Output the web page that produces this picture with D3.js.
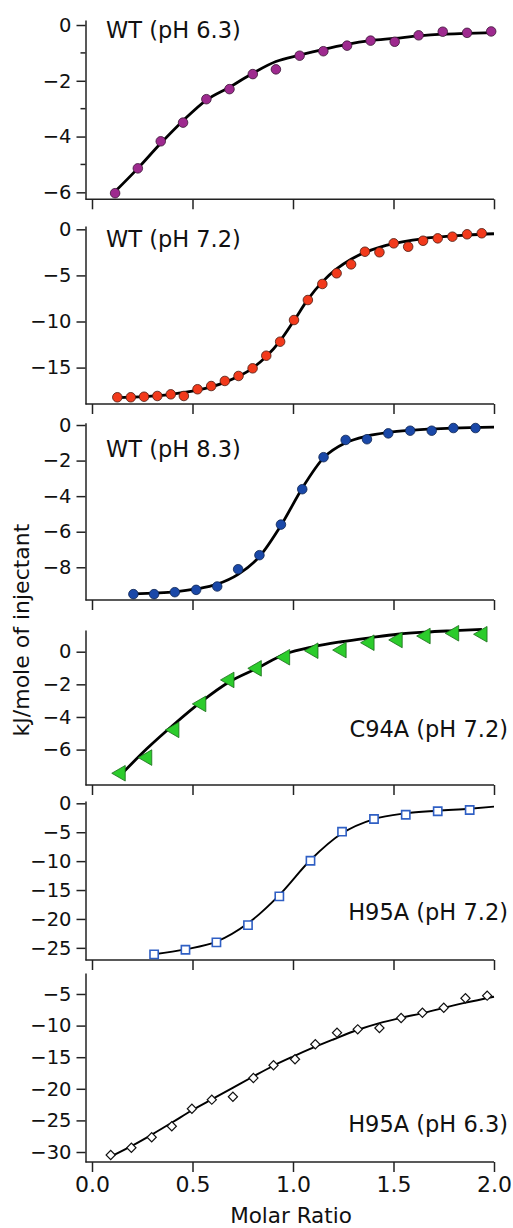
<!DOCTYPE html>
<html>
<head>
<meta charset="utf-8">
<script src="https://cdn.jsdelivr.net/npm/d3@7/dist/d3.min.js"></script>
<style>
  body { margin: 0; background: #fff; }
  text { font-family: "DejaVu Sans", sans-serif; fill: #111; }
</style>
</head>
<body>
<div id="chart"></div>
<script>
// ---- data ----
// WT pH 6.3
const wt63X = [0.115, 0.228, 0.342, 0.453, 0.569, 0.684, 0.80, 0.915, 1.033, 1.151, 1.269, 1.386, 1.506, 1.625, 1.745, 1.866, 1.986];
const wt63Y = [-6.03, -5.14, -4.17, -3.50, -2.66, -2.30, -1.76, -1.59, -1.10, -0.94, -0.74, -0.56, -0.60, -0.37, -0.24, -0.28, -0.23];
const wt63FitX = [0.115, 0.228, 0.342, 0.453, 0.569, 0.684, 0.80, 0.915, 1.033, 1.151, 1.269, 1.386, 1.506, 1.625, 1.745, 1.866, 2.0];
const wt63FitY = [-5.97, -5.14, -4.24, -3.43, -2.69, -2.23, -1.73, -1.31, -1.08, -0.87, -0.69, -0.56, -0.48, -0.39, -0.33, -0.30, -0.27];

// WT pH 7.2
const wt72X = [0.126, 0.193, 0.259, 0.325, 0.392, 0.457, 0.525, 0.593, 0.661, 0.729, 0.799, 0.867, 0.936, 1.005, 1.074, 1.146, 1.217, 1.289, 1.358, 1.430, 1.501, 1.573, 1.647, 1.720, 1.793, 1.866, 1.939];
const wt72Y = [-18.22, -18.22, -18.16, -18.08, -17.90, -18.08, -17.35, -17.00, -16.45, -15.91, -15.08, -13.71, -12.19, -9.84, -7.67, -5.93, -4.77, -3.80, -2.43, -2.49, -1.52, -1.89, -1.24, -0.98, -0.80, -0.54, -0.43];
const wt72FitX = [0.126, 0.259, 0.392, 0.525, 0.661, 0.729, 0.799, 0.867, 0.936, 1.005, 1.074, 1.146, 1.217, 1.289, 1.358, 1.430, 1.501, 1.573, 1.647, 1.720, 1.793, 1.866, 2.0];
const wt72FitY = [-18.25, -18.15, -17.90, -17.45, -16.60, -15.95, -15.05, -13.80, -12.10, -9.90, -7.60, -5.70, -4.30, -3.25, -2.50, -1.95, -1.55, -1.25, -1.00, -0.85, -0.72, -0.62, -0.48];

// WT pH 8.3
const wt83X = [0.206, 0.309, 0.412, 0.518, 0.623, 0.727, 0.833, 0.940, 1.046, 1.152, 1.262, 1.368, 1.474, 1.583, 1.690, 1.798, 1.908];
const wt83Y = [-9.51, -9.51, -9.40, -9.27, -9.08, -8.11, -7.32, -5.60, -3.61, -1.81, -0.84, -0.80, -0.47, -0.32, -0.32, -0.17, -0.17];
const wt83FitX = [0.206, 0.309, 0.412, 0.518, 0.623, 0.727, 0.833, 0.940, 1.046, 1.152, 1.262, 1.368, 1.474, 1.583, 1.690, 1.798, 2.0];
const wt83FitY = [-9.50, -9.45, -9.38, -9.22, -8.95, -8.40, -7.40, -5.65, -3.55, -1.85, -1.00, -0.62, -0.42, -0.30, -0.22, -0.17, -0.12];

// C94A pH 7.2
const c94X = [0.143, 0.275, 0.410, 0.544, 0.684, 0.820, 0.961, 1.102, 1.242, 1.381, 1.521, 1.660, 1.802, 1.943];
const c94Y = [-7.45, -6.49, -4.79, -3.20, -1.73, -1.02, -0.34, 0.06, 0.10, 0.55, 0.72, 0.96, 1.13, 1.07];
const c94FitX = [0.143, 0.275, 0.410, 0.544, 0.684, 0.820, 0.961, 1.102, 1.242, 1.381, 1.521, 1.660, 1.802, 1.940];
const c94FitY = [-7.55, -5.92, -4.43, -3.06, -1.84, -1.02, -0.14, 0.31, 0.61, 0.85, 1.07, 1.20, 1.29, 1.37];

// H95A pH 7.2
const h72X = [0.309, 0.465, 0.619, 0.776, 0.932, 1.087, 1.244, 1.403, 1.561, 1.720, 1.879];
const h72Y = [-26.12, -25.33, -24.05, -21.06, -16.09, -9.93, -4.91, -2.72, -1.97, -1.38, -1.16];
const h72FitX = [0.309, 0.465, 0.619, 0.776, 0.932, 1.087, 1.244, 1.403, 1.561, 1.720, 1.879, 2.0];
const h72FitY = [-26.10, -25.26, -23.94, -20.76, -15.87, -9.81, -5.19, -2.72, -1.73, -1.28, -0.93, -0.58];

// H95A pH 6.3
const h63X = [0.093, 0.196, 0.297, 0.397, 0.497, 0.596, 0.701, 0.803, 0.903, 1.010, 1.111, 1.219, 1.322, 1.430, 1.538, 1.644, 1.750, 1.858, 1.966];
const h63Y = [-30.47, -29.32, -27.67, -25.93, -23.15, -21.72, -21.25, -18.29, -16.28, -15.33, -12.96, -11.12, -10.59, -10.38, -8.80, -7.96, -7.17, -5.68, -5.27];
const h63FitX = [0.093, 0.2, 0.3, 0.4, 0.5, 0.6, 0.7, 0.8, 0.9, 1.0, 1.1, 1.2, 1.32, 1.43, 1.54, 1.64, 1.75, 1.86, 2.0];
const h63FitY = [-30.74, -29.0, -27.2, -25.3, -23.35, -21.6, -19.85, -18.1, -16.39, -14.9, -13.5, -12.2, -10.7, -9.6, -8.75, -8.06, -7.2, -6.37, -5.43];

const panelLabels = ["WT (pH 6.3)", "WT (pH 7.2)", "WT (pH 8.3)", "C94A (pH 7.2)", "H95A (pH 7.2)", "H95A (pH 6.3)"];
const yTicks = [
  [0, -2, -4, -6],
  [0, -5, -10, -15],
  [0, -2, -4, -6, -8],
  [0, -2, -4, -6],
  [0, -5, -10, -15, -20, -25],
  [-5, -10, -15, -20, -25, -30]
];
const yMinorTicks = [[-1, -3, -5], [], [], [], [], []];
const xTicks = [0, 0.5, 1, 1.5, 2];

// ---- layout ----
const width = 513, height = 1228;
const axisX = 85.5;
const x = d3.scaleLinear().domain([0, 2]).range([92, 494]);

const layout = [
  { top: 20,  bottom: 199.3, domain: [-6.25, 0.18],  label: [106, 37.5, "start"],  marker: "circle",   fill: "#9e2a8f", stroke: "#3b1636" },
  { top: 226, bottom: 404,   domain: [-18.95, 0.36], label: [106, 246.7, "start"], marker: "circle",   fill: "#f23a1c", stroke: "#4a1a10" },
  { top: 422.7, bottom: 600, domain: [-9.84, 0.13],  label: [106, 457.3, "start"], marker: "circle",   fill: "#1a48a8", stroke: "#0e2450" },
  { top: 630, bottom: 785,   domain: [-8.17, 1.33],  label: [508, 736.7, "end"],   marker: "triangle", fill: "#2ccc2c", stroke: "#1b6b1b" },
  { top: 801, bottom: 960,   domain: [-27.1, 0.4],   label: [508, 920, "end"],     marker: "square",   fill: "#fff",    stroke: "#2f5fc4" },
  { top: 973, bottom: 1162,  domain: [-31.58, -1.68], label: [508, 1132.3, "end"], marker: "diamond",  fill: "#fff",    stroke: "#111" }
];

const series = [
  [wt63X, wt63Y, wt63FitX, wt63FitY],
  [wt72X, wt72Y, wt72FitX, wt72FitY],
  [wt83X, wt83Y, wt83FitX, wt83FitY],
  [c94X, c94Y, c94FitX, c94FitY],
  [h72X, h72Y, h72FitX, h72FitY],
  [h63X, h63Y, h63FitX, h63FitY]
];

const svg = d3.select("#chart").append("svg")
  .attr("width", width)
  .attr("height", height);

layout.forEach((p, i) => {
  const [xs, ys, fxs, fys] = series[i];
  const y = d3.scaleLinear().domain(p.domain).range([p.bottom, p.top]);
  const g = svg.append("g");

  // y axis
  const yAxis = g.append("g")
    .attr("transform", `translate(${axisX},0)`)
    .call(d3.axisLeft(y).tickValues(yTicks[i]).tickSize(9).tickSizeOuter(0).tickPadding(5)
      .tickFormat(d => d3.format("d")(d).replace("-", "\u2212")));
  yAxis.select(".domain").attr("stroke", "#222").attr("stroke-width", 1.5);
  yAxis.selectAll(".tick line").attr("stroke", "#222").attr("stroke-width", 1.5);
  yAxis.selectAll(".tick text").attr("font-size", 19.5).attr("font-family", "DejaVu Sans").attr("fill", "#111");

  g.selectAll(".minor").data(yMinorTicks[i]).enter().append("line")
    .attr("x1", axisX - 5).attr("x2", axisX)
    .attr("y1", d => y(d)).attr("y2", d => y(d))
    .attr("stroke", "#222").attr("stroke-width", 1.5);

  // bottom line + x ticks
  g.append("line")
    .attr("x1", axisX).attr("x2", x(2))
    .attr("y1", p.bottom).attr("y2", p.bottom)
    .attr("stroke", "#222").attr("stroke-width", 1.5);
  const xAxis = g.append("g")
    .attr("transform", `translate(0,${p.bottom})`)
    .call(d3.axisBottom(x).tickValues(xTicks).tickSize(10).tickSizeOuter(0).tickPadding(4)
      .tickFormat(i === layout.length - 1 ? d3.format(".1f") : ""));
  xAxis.select(".domain").remove();
  xAxis.selectAll(".tick line").attr("stroke", "#222").attr("stroke-width", 1.5);
  xAxis.selectAll(".tick text").attr("font-size", 22).attr("font-family", "DejaVu Sans").attr("fill", "#111");

  // fit curve
  const fit = fxs.map((v, k) => [v, fys[k]]);
  g.append("path")
    .datum(fit)
    .attr("fill", "none")
    .attr("stroke", "#000")
    .attr("stroke-width", i >= 4 ? 1.9 : 2.8)
    .attr("d", d3.line().x(d => x(d[0])).y(d => y(d[1])).curve(d3.curveMonotoneX));

  // markers
  const pts = xs.map((v, k) => [v, ys[k]]);
  const sym = {
    circle: d3.symbol().type(d3.symbolCircle).size(72),
    triangle: d3.symbol().type(d3.symbolTriangle).size(105),
    square: d3.symbol().type(d3.symbolSquare).size(68),
    diamond: d3.symbol().type(d3.symbolSquare).size(42)
  }[p.marker];
  const rot = { circle: 0, triangle: -90, square: 0, diamond: 45 }[p.marker];
  g.selectAll(".pt").data(pts).enter().append("path")
    .attr("transform", d => `translate(${x(d[0])},${y(d[1])}) rotate(${rot})`)
    .attr("d", sym)
    .attr("fill", p.fill)
    .attr("stroke", p.stroke)
    .attr("stroke-width", p.marker === "square" ? 1.6 : (p.marker === "diamond" ? 1.2 : 0.8));

  // panel label
  g.append("text")
    .attr("x", p.label[0]).attr("y", p.label[1])
    .attr("text-anchor", p.label[2])
    .attr("font-size", 22.5)
    .text(panelLabels[i]);
});

// axis titles
svg.append("text")
  .attr("transform", "translate(29,630) rotate(-90)")
  .attr("text-anchor", "middle")
  .attr("font-size", 22)
  .text("kJ/mole of injectant");

svg.append("text")
  .attr("x", 291).attr("y", 1223)
  .attr("text-anchor", "middle")
  .attr("font-size", 21.5)
  .text("Molar Ratio");
</script>
</body>
</html>
